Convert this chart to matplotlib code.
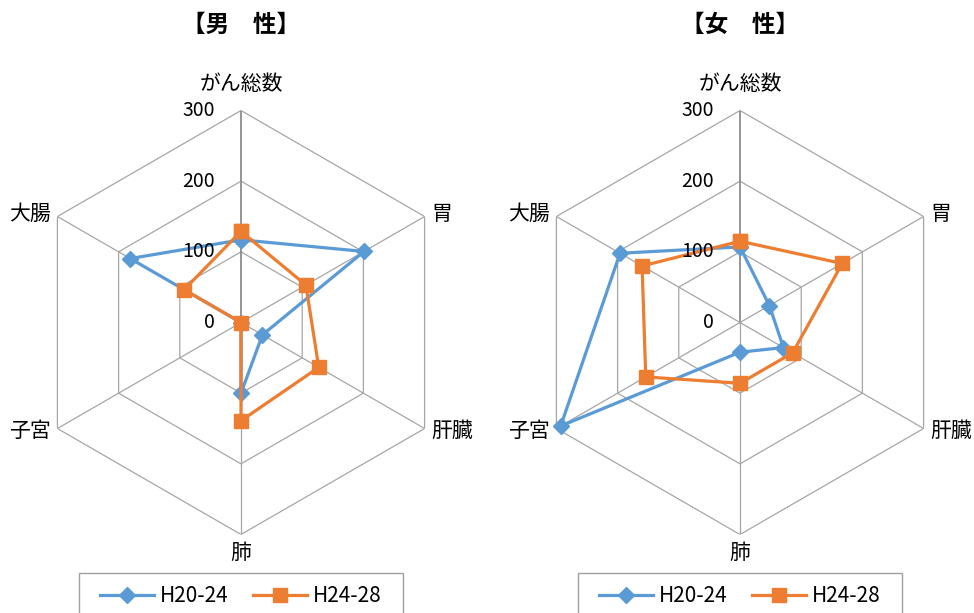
import numpy as np
import matplotlib
matplotlib.use('Agg')
import matplotlib.pyplot as plt
from matplotlib.lines import Line2D
from matplotlib.patches import Rectangle

plt.rcParams['font.family'] = ['Noto Sans CJK JP', 'DejaVu Sans']

# データ
categories = ['がん総数', '胃', '肝臓', '肺', '子宮', '大腸']
series_names = ['H20-24', 'H24-28']
male_h20 = [117, 201, 35, 100, 0, 181]
male_h24 = [129, 106, 127, 139, 0, 93]
female_h20 = [107, 48, 71, 42, 293, 196]
female_h24 = [115, 167, 86, 86, 154, 160]
r_ticks = [0, 100, 200, 300]

BLUE = '#5B9BD5'
ORANGE = '#ED7D31'
GRID = '#a6a6a6'
W, H = 974, 613

# ラベルの位置（ポイント単位のずれ, ha, va）
label_pos = [((0, 19), 'center', 'center'),
             ((5, 2), 'left', 'center'),
             ((5, -2), 'left', 'center'),
             ((0, -13), 'center', 'center'),
             ((-5, -2), 'right', 'center'),
             ((-5, 2), 'right', 'center')]


def radar(ax, v1, v2):
    n = len(categories)
    theta = np.arange(n) * 2 * np.pi / n
    tc = np.append(theta, theta[0])
    ax.set_theta_offset(np.pi / 2)
    ax.set_theta_direction(-1)
    ax.set_ylim(0, r_ticks[-1])
    ax.grid(False)
    ax.set_xticks([])
    ax.set_yticks([])
    ax.spines['polar'].set_visible(False)

    # 六角形の目盛線
    for r in r_ticks[1:]:
        ax.plot(tc, [r] * (n + 1), color=GRID, lw=0.9, zorder=1)
    for i, t in enumerate(theta):
        ax.plot([t, t], [0, r_ticks[-1]], color='#8c8c8c' if i == 0 else GRID,
                lw=1.3 if i == 0 else 0.9, zorder=1)

    for r in r_ticks:
        ax.annotate(str(r), xy=(0, r), xytext=(-19, 0), textcoords='offset points',
                    ha='right', va='center', fontsize=14, zorder=5)
    for t, c, (off, ha, va) in zip(theta, categories, label_pos):
        ax.annotate(c, xy=(t, r_ticks[-1]), xytext=off, textcoords='offset points',
                    ha=ha, va=va, fontsize=15, annotation_clip=False)

    ax.plot(tc, np.append(v1, v1[0]), color=BLUE, lw=2.3, marker='D', ms=8,
            zorder=3, clip_on=False)
    ax.plot(tc, np.append(v2, v2[0]), color=ORANGE, lw=2.3, marker='s', ms=10,
            zorder=4, clip_on=False)


fig = plt.figure(figsize=(W / 100, H / 100), dpi=100)
ax1 = fig.add_axes([29 / W, 78.5 / H, 424 / W, 424 / H], projection='polar')
ax2 = fig.add_axes([528 / W, 78.5 / H, 424 / W, 424 / H], projection='polar')
radar(ax1, male_h20, male_h24)
radar(ax2, female_h20, female_h24)

for cx, title in [(241, '【男\u3000性】'), (740, '【女\u3000性】')]:
    fig.text(cx / W, 1 - 25 / H, title, ha='center', va='center',
             fontsize=17, fontweight='bold')
    handles = [Line2D([], [], color=BLUE, lw=2.3, marker='D', ms=8),
               Line2D([], [], color=ORANGE, lw=2.3, marker='s', ms=10)]
    fig.legend(handles, series_names, loc='center',
               bbox_to_anchor=(cx / W, 1 - 596 / H), ncol=2,
               fontsize=15, frameon=False,
               handlelength=2.55, handletextpad=0.3, columnspacing=1.2,
               borderpad=0, borderaxespad=0)
    # 凡例の枠（下端は図の外まで）
    fig.patches.append(Rectangle(((cx - 162) / W, -0.05), 324 / W, 0.05 + 40 / H,
                                 transform=fig.transFigure, fill=False,
                                 edgecolor='#a0a0a0', lw=1.0))

plt.savefig('out.png', dpi=100)
